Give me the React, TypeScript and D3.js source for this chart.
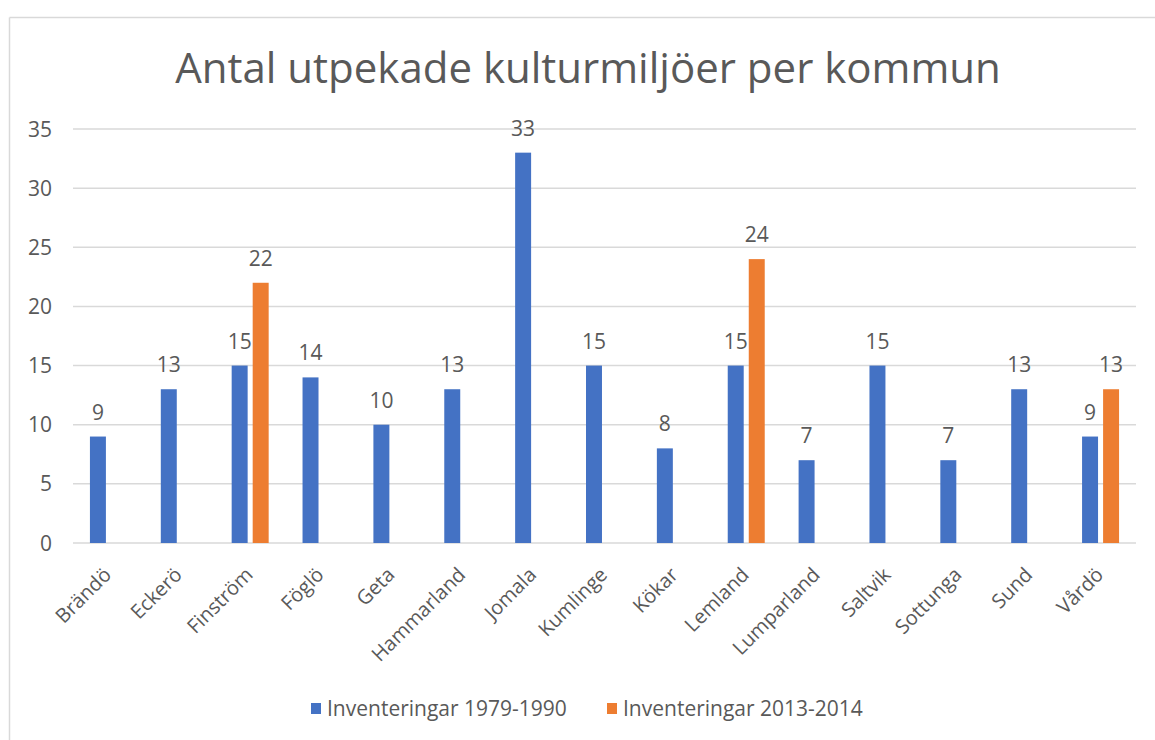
import React from "react";
import * as d3 from "d3";

const categories = ["Brändö","Eckerö","Finström","Föglö","Geta","Hammarland","Jomala","Kumlinge","Kökar","Lemland","Lumparland","Saltvik","Sottunga","Sund","Vårdö"];
const series1Name = "Inventeringar 1979-1990";
const series2Name = "Inventeringar 2013-2014";
const series1 = [9,13,15,14,10,13,33,15,8,15,7,15,7,13,9];
const series2: (number|null)[] = [null,null,22,null,null,null,null,null,null,24,null,null,null,null,13];
const yTicks = [0,5,10,15,20,25,30,35];
const title = "Antal utpekade kulturmiljöer per kommun";

const W = 1155, H = 740;
const FONT = "'Open Sans', 'Noto Sans', sans-serif";
const TXT = "#595959";
const GRID = "#D9D9D9";
const COLORS = ["#4472C4", "#ED7D31"];

export default function App() {
  const x0 = d3.scaleBand<string>().domain(categories).range([73, 1136]).padding(0);
  const groupW = 37;
  const x1 = d3.scaleBand<string>().domain(["s1","s2"]).range([0, groupW]).paddingInner(0.24).paddingOuter(0);
  const y = d3.scaleLinear().domain([0, 35]).range([543, 129]);
  const off = (x0.bandwidth() - groupW) / 2;
  const seriesArr = [{ key: "s1", vals: series1 as (number|null)[] }, { key: "s2", vals: series2 }];
  return (
    <svg width={W} height={H} style={{ position: "absolute", left: 0, top: 0, background: "#fff" }} fontFamily={FONT}>
      <rect x={0} y={0} width={W} height={H} fill="#fff" />
      <line x1={9.5} x2={W} y1={17.5} y2={17.5} stroke={GRID} strokeWidth={1.5} />
      <line x1={9.5} x2={9.5} y1={17.5} y2={H} stroke={GRID} strokeWidth={1.5} />
      <text x={588} y={83} textAnchor="middle" fontSize={42} fill={TXT}>{title}</text>
      {yTicks.map(t => (
        <g key={t}>
          <line x1={73} x2={1136} y1={y(t)} y2={y(t)} stroke={GRID} strokeWidth={1.5} />
          <text x={52} y={y(t)} dy="0.36em" textAnchor="end" fontSize={21} fill={TXT}>{t}</text>
        </g>
      ))}
      {categories.map((c, i) => (
        <g key={c}>
          {seriesArr.map((s, si) => {
            const v = s.vals[i];
            if (v == null) return null;
            const bx = (x0(c) as number) + off + (x1(s.key) as number);
            return (
              <g key={s.key}>
                <rect x={bx} y={y(v)} width={x1.bandwidth()} height={y(0) - y(v)} fill={COLORS[si]} />
                <text x={bx + x1.bandwidth() / 2} y={y(v) - 17} textAnchor="middle" fontSize={21} fill={TXT}>{v}</text>
              </g>
            );
          })}
          <text transform={`translate(${(x0(c) as number) + x0.bandwidth() / 2 + 4},${576}) rotate(-45)`} textAnchor="end" fontSize={20} fill={TXT}>{c}</text>
        </g>
      ))}
      {[series1Name, series2Name].map((n, i) => {
        const lx = [311, 607][i];
        return (
          <g key={n}>
            <rect x={lx} y={703} width={10} height={11} fill={COLORS[i]} />
            <text x={lx + 16} y={716} fontSize={21} fill={TXT}>{n}</text>
          </g>
        );
      })}
    </svg>
  );
}
